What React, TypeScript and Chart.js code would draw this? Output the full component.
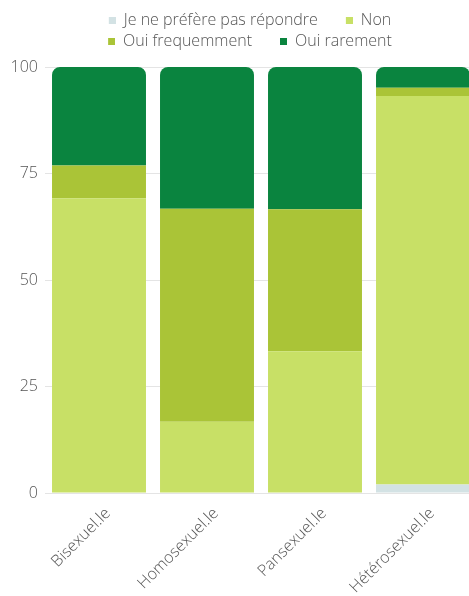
import React, { useEffect, useRef } from 'react';
import { Chart, registerables } from 'chart.js';

Chart.register(...registerables);

const categories = ['Bisexuel.le', 'Homosexuel.le', 'Pansexuel.le', 'Hétérosexuel.le'];
const seriesNames = ['Je ne préfère pas répondre', 'Non', 'Oui frequemment', 'Oui rarement'];
const jeNePrefere = [0, 0, 0, 2];
const non = [69.2, 16.7, 33.3, 91.2];
const ouiFrequemment = [7.7, 50, 33.3, 1.9];
const ouiRarement = [23.1, 33.3, 33.4, 4.9];
const yTicks = [0, 25, 50, 75, 100];
const seriesColors = ['#d3e2e4', '#c8e066', '#aac437', '#0a843f'];

const FONT = "'Open Sans', sans-serif";
const TEXT = '#555555';
const SLOT = 30;
const SWATCH = 7;

function makeSwatch(color: string) {
  const c = document.createElement('canvas');
  c.width = SLOT;
  c.height = SWATCH;
  const ctx = c.getContext('2d')!;
  ctx.fillStyle = color;
  ctx.fillRect(SLOT - SWATCH, 0, SWATCH, SWATCH);
  return c;
}

export default function App() {
  const ref = useRef<HTMLCanvasElement | null>(null);

  useEffect(() => {
    if (!ref.current) return;
    const swatches = seriesColors.map(makeSwatch);
    const values = [jeNePrefere, non, ouiFrequemment, ouiRarement];
    const chart = new Chart(ref.current, {
      type: 'bar',
      data: {
        labels: categories,
        datasets: seriesNames.map((name, i) => ({
          label: name,
          data: values[i],
          backgroundColor: seriesColors[i],
          borderWidth: 0,
          borderRadius: 8,
          borderSkipped: 'start',
          barPercentage: 0.87,
          categoryPercentage: 1,
        })),
      },
      options: {
        animation: false,
        responsive: true,
        maintainAspectRatio: false,
        layout: { padding: { left: 0, top: 7, right: 0, bottom: 0 } },
        plugins: {
          tooltip: { enabled: false },
          legend: {
            position: 'top',
            labels: {
              usePointStyle: true,
              pointStyleWidth: SLOT,
              boxHeight: SWATCH,
              padding: 5,
              color: TEXT,
              font: { family: FONT, size: 16, weight: '300' },
              generateLabels: (c: any) =>
                Chart.defaults.plugins.legend.labels
                  .generateLabels(c)
                  .map((l: any, i: number) => ({ ...l, pointStyle: swatches[i] })),
            },
          },
          subtitle: {
            display: true,
            text: '',
            position: 'top',
            weight: 500,
            padding: 0,
            font: { size: 8, lineHeight: 1 },
          },
        },
        scales: {
          x: {
            stacked: true,
            grid: { display: false },
            border: { display: false },
            ticks: {
              color: TEXT,
              font: { family: FONT, size: 16, weight: '300' },
              minRotation: 45,
              maxRotation: 45,
              autoSkip: false,
              labelOffset: 9,
            },
          },
          y: {
            stacked: true,
            min: 0,
            max: 100,
            afterFit: (s: any) => {
              s.width = 45;
            },
            afterBuildTicks: (s: any) => {
              s.ticks = yTicks.map((v) => ({ value: v }));
            },
            grid: { color: '#e4e4e4', drawTicks: false },
            border: { display: false },
            ticks: {
              color: TEXT,
              padding: 7,
              font: { family: FONT, size: 16, weight: '300' },
            },
          },
        },
      },
    });
    return () => chart.destroy();
  }, []);

  return (
    <div
      style={{
        position: 'absolute',
        left: 0,
        top: 0,
        width: 469,
        height: 596,
        overflow: 'hidden',
        background: '#ffffff',
      }}
    >
      <div style={{ position: 'relative', width: 477, height: 600 }}>
        <canvas ref={ref} />
      </div>
    </div>
  );
}
